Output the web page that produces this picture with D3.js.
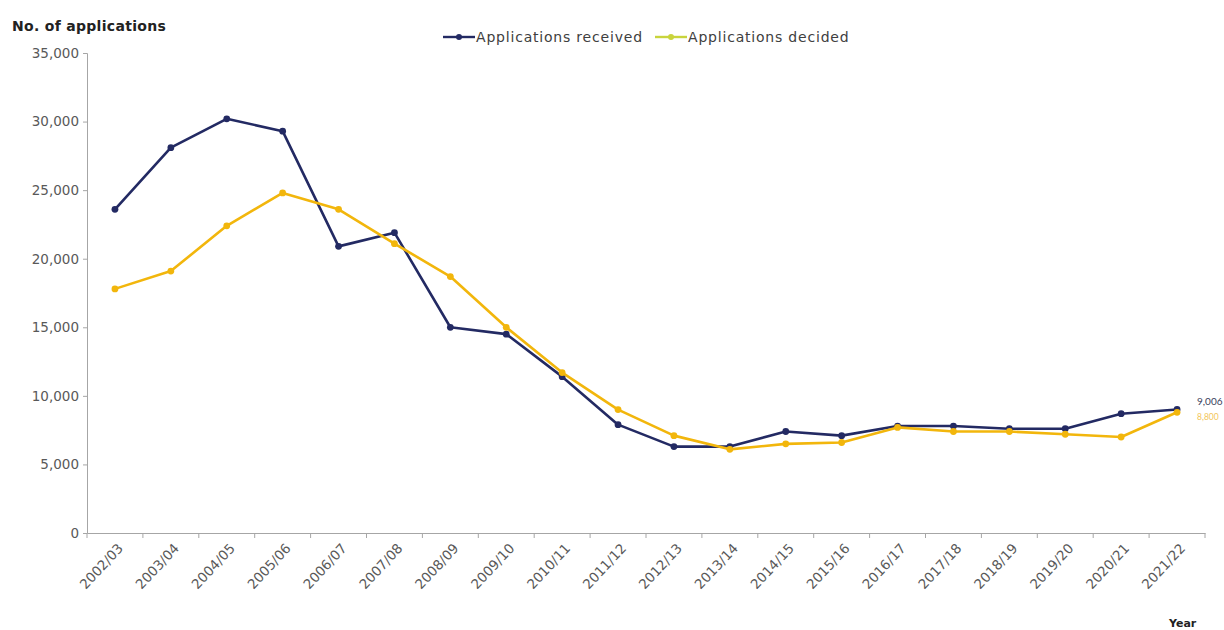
<!DOCTYPE html>
<html>
<head>
<meta charset="utf-8">
<script src="https://cdn.jsdelivr.net/npm/d3@7"></script>
<style>
  html, body { margin: 0; padding: 0; background: #ffffff; }
  svg { display: block; font-family: "DejaVu Sans", "Open Sans", sans-serif; }
</style>
</head>
<body>
<svg id="chart" width="1224" height="630"></svg>
<script>
// Financial years
const years = ["2002/03","2003/04","2004/05","2005/06","2006/07","2007/08","2008/09","2009/10",
  "2010/11","2011/12","2012/13","2013/14","2014/15","2015/16","2016/17","2017/18",
  "2018/19","2019/20","2020/21","2021/22"];

// Applications received per year
const received = [23600, 28100, 30200, 29300, 20900, 21900, 15000, 14500, 11400, 7900,
  6300, 6300, 7400, 7100, 7800, 7800, 7600, 7600, 8700, 9006];

// Applications decided per year
const decided = [17800, 19100, 22400, 24800, 23600, 21100, 18700, 15000, 11700, 9000,
  7100, 6100, 6500, 6600, 7700, 7400, 7400, 7200, 7000, 8800];

const yTicks = [0, 5000, 10000, 15000, 20000, 25000, 30000, 35000];

const seriesNames = ["Applications received", "Applications decided"];
const colRecv = "#232a63";
const colDec = "#f2b60c";
const colDecLegend = "#c9d43c";

const svg = d3.select("#chart");
const plotL = 87, plotR = 1205, plotT = 53, plotB = 533;

const x = d3.scaleBand().domain(years).range([plotL, plotR]);
const xc = d => x(d) + x.bandwidth() / 2;
const y = d3.scaleLinear().domain([0, 35000]).range([plotB, plotT]);

// Y axis
const yAxis = svg.append("g")
  .attr("transform", `translate(${plotL},0)`)
  .call(d3.axisLeft(y).tickValues(yTicks).tickSize(4).tickPadding(4)
    .tickFormat(d3.format(",")));
yAxis.select(".domain").attr("stroke", "#a6a6a6");
yAxis.selectAll(".tick line").attr("stroke", "#a6a6a6");
yAxis.selectAll("text").attr("fill", "#595959").style("font-size", "13.5px")
  .style("font-family", "DejaVu Sans");

// X axis with tick marks on category boundaries
const xAxis = svg.append("g")
  .attr("transform", `translate(0,${plotB})`)
  .call(d3.axisBottom(x).tickSize(0).tickPadding(0));
xAxis.select(".domain").attr("stroke", "#a6a6a6");
xAxis.selectAll("text")
  .attr("fill", "#595959").style("font-size", "13.5px")
  .style("font-family", "DejaVu Sans")
  .attr("text-anchor", "end")
  .attr("y", 0).attr("dy", 0)
  .attr("transform", "translate(9,16) rotate(-47)");
const bounds = years.map(d => x(d)).concat([plotR]);
svg.append("g").selectAll("line").data(bounds).join("line")
  .attr("x1", d => d).attr("x2", d => d)
  .attr("y1", plotB).attr("y2", plotB + 5)
  .attr("stroke", "#a6a6a6");

// Lines
const line = d3.line().x((d, i) => xc(years[i])).y(d => y(d));

function drawSeries(data, color) {
  svg.append("path").datum(data)
    .attr("fill", "none").attr("stroke", color)
    .attr("stroke-width", 2.6).attr("stroke-linejoin", "round")
    .attr("d", line);
  svg.append("g").selectAll("circle").data(data).join("circle")
    .attr("cx", (d, i) => xc(years[i])).attr("cy", d => y(d))
    .attr("r", 3.4).attr("fill", color);
}
drawSeries(received, colRecv);
drawSeries(decided, colDec);

// End-of-series value labels
const last = years.length - 1;
svg.append("text")
  .attr("x", xc(years[last]) + 20).attr("y", y(received[last]) - 4)
  .attr("fill", "#3a3f5c").style("font-size", "10px").style("font-family", "Lato")
  .text(d3.format(",")(received[last]));
svg.append("text")
  .attr("x", xc(years[last]) + 20).attr("y", y(decided[last]) + 8)
  .attr("fill", "#f3c65a").style("font-size", "8.5px").style("font-family", "Lato")
  .text(d3.format(",")(decided[last]));

// Axis titles
svg.append("text").attr("x", 12).attr("y", 31)
  .attr("fill", "#222").style("font-size", "14px").style("font-weight", "bold")
  .style("letter-spacing", "0.3px")
  .text("No. of applications");
svg.append("text").attr("x", 1169).attr("y", 627)
  .attr("fill", "#222").style("font-size", "11px").style("font-weight", "bold")
  .text("Year");

// Legend
const legend = svg.append("g").attr("transform", "translate(443,37)");
const items = [
  { name: seriesNames[0], color: colRecv, x: 0 },
  { name: seriesNames[1], color: colDecLegend, x: 212 }
];
items.forEach(it => {
  const g = legend.append("g").attr("transform", `translate(${it.x},0)`);
  g.append("line").attr("x1", 0).attr("x2", 32).attr("y1", 0).attr("y2", 0)
    .attr("stroke", it.color).attr("stroke-width", 2.4);
  g.append("circle").attr("cx", 16).attr("cy", 0).attr("r", 3).attr("fill", it.color);
  g.append("text").attr("x", 33).attr("y", 5)
    .attr("fill", "#404040").style("font-size", "14px")
    .style("letter-spacing", "0.8px").text(it.name);
});
</script>
</body>
</html>
